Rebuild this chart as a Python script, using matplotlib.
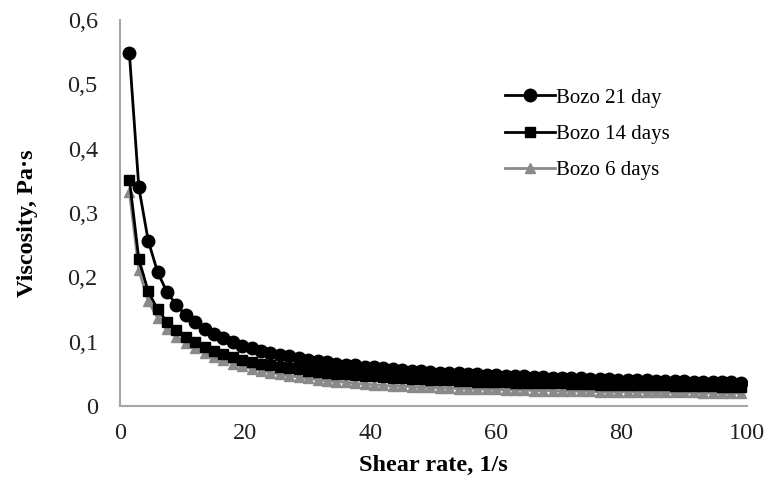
import matplotlib
matplotlib.use("Agg")
import matplotlib.pyplot as plt
from matplotlib.ticker import FuncFormatter, MultipleLocator

shear_rate = [1.5, 3.0, 4.5, 6.0, 7.5, 9.0, 10.5, 12.0, 13.5, 15.0,
              16.5, 18.0, 19.5, 21.0, 22.5, 24.0, 25.5, 27.0, 28.5, 30.0,
              31.5, 33.0, 34.5, 36.0, 37.5, 39.0, 40.5, 42.0, 43.5, 45.0,
              46.5, 48.0, 49.5, 51.0, 52.5, 54.0, 55.5, 57.0, 58.5, 60.0,
              61.5, 63.0, 64.5, 66.0, 67.5, 69.0, 70.5, 72.0, 73.5, 75.0,
              76.5, 78.0, 79.5, 81.0, 82.5, 84.0, 85.5, 87.0, 88.5, 90.0,
              91.5, 93.0, 94.5, 96.0, 97.5, 99.0]

bozo_21 = [0.548, 0.340, 0.257, 0.208, 0.177, 0.157, 0.141, 0.130, 0.120, 0.112,
           0.105, 0.099, 0.094, 0.090, 0.086, 0.082, 0.079, 0.077, 0.074, 0.072,
           0.070, 0.068, 0.066, 0.064, 0.063, 0.061, 0.060, 0.059, 0.057, 0.056,
           0.055, 0.054, 0.053, 0.052, 0.0515, 0.051, 0.050, 0.049, 0.048, 0.048,
           0.047, 0.0465, 0.046, 0.045, 0.045, 0.044, 0.044, 0.043, 0.043, 0.042,
           0.042, 0.0415, 0.041, 0.041, 0.040, 0.040, 0.0395, 0.039, 0.039, 0.0385,
           0.038, 0.038, 0.0375, 0.037, 0.037, 0.0365]

bozo_14 = [0.352, 0.228, 0.178, 0.150, 0.131, 0.118, 0.108, 0.099, 0.092, 0.086,
           0.081, 0.076, 0.072, 0.069, 0.066, 0.063, 0.061, 0.059, 0.057, 0.055,
           0.053, 0.052, 0.050, 0.049, 0.048, 0.047, 0.046, 0.045, 0.044, 0.043,
           0.042, 0.042, 0.041, 0.040, 0.040, 0.039, 0.039, 0.038, 0.038, 0.037,
           0.037, 0.036, 0.036, 0.036, 0.035, 0.035, 0.035, 0.034, 0.034, 0.034,
           0.033, 0.033, 0.033, 0.033, 0.032, 0.032, 0.032, 0.032, 0.031, 0.031,
           0.031, 0.031, 0.031, 0.030, 0.030, 0.030]

bozo_6 = [0.333, 0.212, 0.163, 0.137, 0.120, 0.108, 0.098, 0.090, 0.083, 0.076,
          0.071, 0.066, 0.062, 0.058, 0.055, 0.052, 0.049, 0.047, 0.045, 0.043,
          0.041, 0.039, 0.038, 0.037, 0.035, 0.034, 0.033, 0.032, 0.031, 0.031,
          0.030, 0.029, 0.029, 0.028, 0.028, 0.027, 0.027, 0.026, 0.026, 0.026,
          0.025, 0.025, 0.025, 0.024, 0.024, 0.024, 0.023, 0.023, 0.023, 0.023,
          0.022, 0.022, 0.022, 0.022, 0.022, 0.021, 0.021, 0.021, 0.021, 0.021,
          0.021, 0.020, 0.020, 0.020, 0.020, 0.020]

series_labels = ["Bozo 21 day", "Bozo 14 days", "Bozo 6 days"]
x_label = "Shear rate, 1/s"
y_label = "Viscosity, Pa·s"

plt.rcParams['font.family'] = ['Liberation Serif', 'DejaVu Serif']

fig = plt.figure(figsize=(7.69, 4.86), dpi=100)
ax = fig.add_axes([120/769, 1-406/486, 627/769, 386/486])

l6, = ax.plot(shear_rate, bozo_6, color='#8a8a8a', lw=2.0, marker='^',
              markersize=7, markerfacecolor='#8a8a8a', markeredgecolor='#8a8a8a', zorder=2)
l14, = ax.plot(shear_rate, bozo_14, color='black', lw=2.0, marker='s',
               markersize=7, zorder=3)
l21, = ax.plot(shear_rate, bozo_21, color='black', lw=2.0, marker='o',
               markersize=9, zorder=4)

ax.set_xlim(0, 100)
ax.set_ylim(0, 0.6)
ax.xaxis.set_major_locator(MultipleLocator(20))
ax.yaxis.set_major_locator(MultipleLocator(0.1))

def comma_fmt(v, pos):
    if abs(v) < 1e-9:
        return "0"
    return ("%.1f" % v).replace('.', ',')

ax.yaxis.set_major_formatter(FuncFormatter(comma_fmt))
ax.xaxis.set_major_formatter(FuncFormatter(lambda v, p: "%d" % round(v)))

for s in ['top', 'right']:
    ax.spines[s].set_visible(False)
for s in ['left', 'bottom']:
    ax.spines[s].set_color('#a6a6a6')
    ax.spines[s].set_linewidth(1.5)

ax.tick_params(axis='both', length=0, labelsize=17.5, colors='#222222')
ax.tick_params(axis='y', pad=16)
ax.tick_params(axis='x', pad=12)

ax.set_xlabel(x_label, fontsize=17.5, fontweight='bold', labelpad=8)
ax.set_ylabel(y_label, fontsize=17.5, fontweight='bold')
ax.yaxis.set_label_coords(-0.131, 0.474)

leg = ax.legend([l21, l14, l6], series_labels, loc='upper left',
                bbox_to_anchor=(0.6, 0.845), frameon=False, fontsize=15,
                handlelength=2.4, handletextpad=0.05, labelspacing=0.8,
                borderaxespad=0)

fig.savefig("out.png", dpi=100)
